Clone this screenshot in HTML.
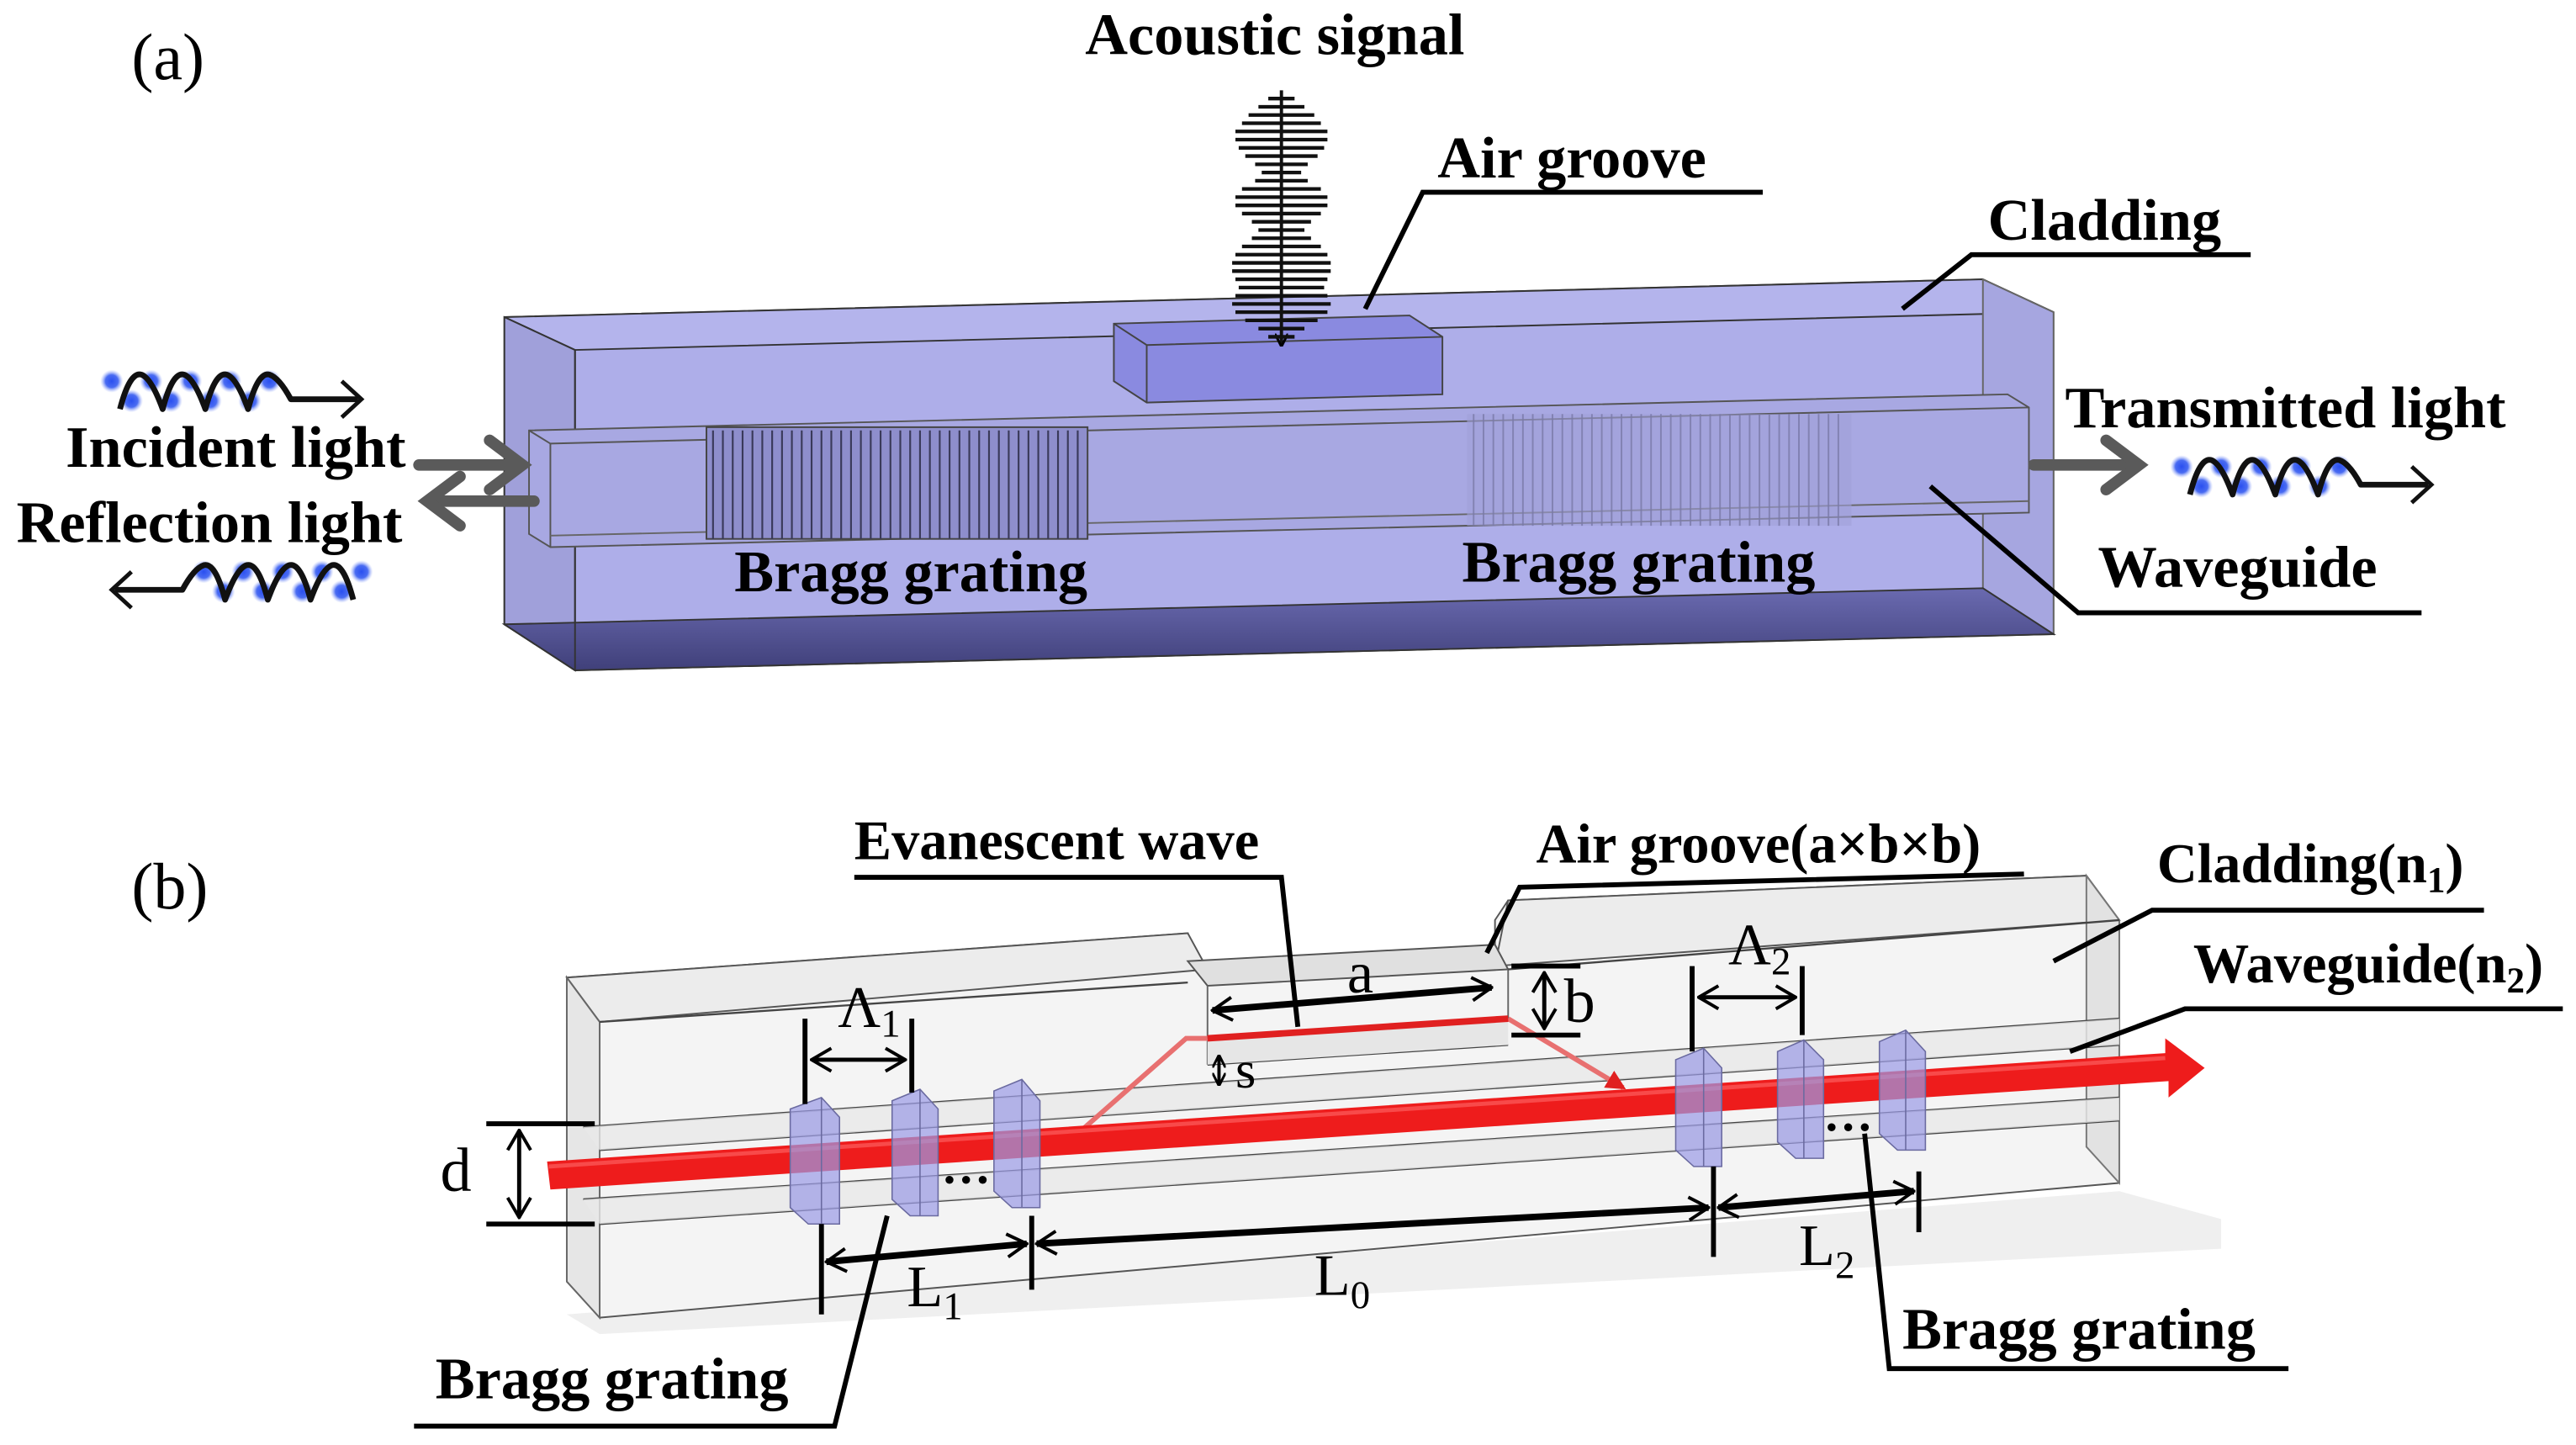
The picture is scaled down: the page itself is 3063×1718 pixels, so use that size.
<!DOCTYPE html>
<html><head><meta charset="utf-8"><style>
html,body{margin:0;padding:0;background:#fff}
svg{display:block}
text{font-family:"Liberation Serif",serif;font-weight:bold;fill:#000}
.r{font-weight:normal}
</style></head><body>
<svg width="3063" height="1718" viewBox="0 0 1568 879.5" xmlns="http://www.w3.org/2000/svg">
<defs>
<marker id="ah" markerWidth="14" markerHeight="16" refX="13" refY="8" orient="auto-start-reverse" markerUnits="userSpaceOnUse"><path d="M1,1 L13,8 L1,15" fill="none" stroke="#000" stroke-width="2"/></marker>
<marker id="as" markerWidth="8" markerHeight="8" refX="7" refY="4" orient="auto-start-reverse" markerUnits="userSpaceOnUse"><path d="M0,0 L8,4 L0,8" fill="none" stroke="#000" stroke-width="1.5"/></marker>
<marker id="ra" markerWidth="12" markerHeight="12" refX="10" refY="6" orient="auto" markerUnits="userSpaceOnUse"><path d="M0,0 L12,6 L0,12 Z" fill="#e02020"/></marker>
<radialGradient id="dg"><stop offset="0" stop-color="#2a4ff0"/><stop offset="0.55" stop-color="#4a6cf2"/><stop offset="1" stop-color="#a8b8fa" stop-opacity="0"/></radialGradient>
<g id="wave">
<g fill="url(#dg)">
<circle cx="0" cy="-6" r="7"/><circle cx="12" cy="6" r="7"/><circle cx="24" cy="-6" r="7"/><circle cx="36" cy="6" r="7"/><circle cx="48" cy="-6" r="7"/><circle cx="60" cy="6" r="7"/><circle cx="72" cy="-6" r="7"/><circle cx="84" cy="6" r="7"/><circle cx="96" cy="-6" r="7"/>
</g>
<path d="M5,11 Q11,-12 18,-10 Q24,-8 31,11 Q37,-12 44,-10 Q50,-8 57,11 Q63,-12 70,-10 Q76,-8 83,11 Q89,-12 96,-10 Q102,-8 109,5 L150,5" fill="none" stroke="#111" stroke-width="3.5" stroke-linejoin="round"/>
<path d="M140,-6 L152,5 L140,16" fill="none" stroke="#111" stroke-width="2.5"/>
</g>
<linearGradient id="bot" x1="0" y1="0" x2="0" y2="1"><stop offset="0" stop-color="#6a6ab0"/><stop offset="1" stop-color="#40407a"/></linearGradient>
</defs>

<!-- ===== Panel (a) ===== -->
<text x="80" y="48" class="r" font-size="40">(a)</text>
<text x="776" y="33" font-size="36" text-anchor="middle">Acoustic signal</text>

<polygon points="307,193 1207,170 1250,190 1250,386 350,408 307,380" fill="#aeaee9" stroke="#444" stroke-width="1"/>
<polygon points="307,193 1207,170 1250,190 350,213" fill="#b4b4ec" stroke="#333" stroke-width="1"/>
<polygon points="307,193 350,213 350,408 307,380" fill="#a0a0da" stroke="#333" stroke-width="1"/>
<polygon points="1207,170 1250,190 1250,386 1207,358" fill="#a6a6e0" stroke="#666" stroke-width="1"/>
<polygon points="307,380 1207,358 1250,386 350,408" fill="url(#bot)" stroke="#333" stroke-width="1"/>
<line x1="350" y1="213" x2="350" y2="408" stroke="#333"/>
<polygon points="678,197 858,192 878,205 878,240 698,245 678,232" fill="#8a8ae0" stroke="#444"/>
<polyline points="678,197 698,210 878,205" fill="none" stroke="#444"/>
<line x1="698" y1="210" x2="698" y2="245" stroke="#444"/>
<polygon points="322,262 1222,240 1235,248 1235,312 335,333 322,325" fill="#a8a8e2" stroke="#555"/>
<polyline points="322,262 335,270 1235,248" fill="none" stroke="#555"/>
<line x1="335" y1="270" x2="335" y2="333" stroke="#555"/>
<line x1="335" y1="326" x2="1235" y2="305" stroke="#666"/>
<rect x="430" y="260" width="232" height="68" fill="#8e8ecc" stroke="#444"/>
<g stroke="#3a3a5a" stroke-width="1.1">
<path d="M434,262V328M440,262V328M446,262V328M452,262V328M458,262V328M464,262V328M470,262V328M476,262V328M482,262V328M488,262V328M494,262V328M500,262V328M506,262V328M512,262V328M518,262V328M524,262V328M530,262V328M536,262V328M542,262V328M548,262V328M554,262V328M560,262V328M566,262V328M572,262V328M578,262V328M584,262V328M590,262V328M596,262V328M602,262V328M608,262V328M614,262V328M620,262V328M626,262V328M632,262V328M638,262V328M644,262V328M650,262V328M656,262V328"/>
</g>
<rect x="893" y="252" width="234" height="68" fill="#a0a0d8" opacity="0.6"/>
<g stroke="#7a7aa8" stroke-width="1" opacity="0.8">
<path d="M897,252V320M903,252V320M909,252V320M915,252V320M921,252V320M927,252V320M933,252V320M939,252V320M945,252V320M951,252V320M957,252V320M963,252V320M969,252V320M975,252V320M981,252V320M987,252V320M993,252V320M999,252V320M1005,252V320M1011,252V320M1017,252V320M1023,252V320M1029,252V320M1035,252V320M1041,252V320M1047,252V320M1053,252V320M1059,252V320M1065,252V320M1071,252V320M1077,252V320M1083,252V320M1089,252V320M1095,252V320M1101,252V320M1107,252V320M1113,252V320M1119,252V320"/>
</g>

<line x1="780" y1="55" x2="780" y2="210" stroke="#111" stroke-width="2" marker-end="url(#as)"/>
<g stroke="#111" stroke-width="2.2">
<path d="M772,60h16M766,65h28M760,70h40M756,75h48M752,80h56M752,85h56M754,90h52M758,95h44M764,100h32M768,105h24M764,110h32M756,115h48M752,120h56M752,125h56M756,130h48M762,135h36M766,140h28M762,145h36M756,150h48M752,155h56M750,160h60M750,165h60M752,170h56M754,175h52M752,180h56M750,185h60M752,190h56M758,195h44M766,200h28M772,205h16"/>
</g>

<text x="875" y="108" font-size="36">Air groove</text>
<polyline points="1073,117 866,117 831,188" fill="none" stroke="#000" stroke-width="3"/>
<text x="1210" y="146" font-size="36">Cladding</text>
<polyline points="1370,155 1200,155 1158,188" fill="none" stroke="#000" stroke-width="3"/>
<text x="1257" y="260" font-size="36">Transmitted light</text>
<text x="1277" y="357" font-size="36">Waveguide</text>
<polyline points="1474,373 1265,373 1175,296" fill="none" stroke="#000" stroke-width="3"/>
<text x="40" y="284" font-size="36">Incident light</text>
<text x="10" y="330" font-size="36">Reflection light</text>
<text x="447" y="360" font-size="36">Bragg grating</text>
<text x="890" y="354" font-size="36">Bragg grating</text>

<g stroke="#5a5a5a" stroke-width="7" fill="none" stroke-linecap="round">
<line x1="255" y1="283" x2="316" y2="283"/><polyline points="298,268 318,283 298,298"/>
<line x1="325" y1="305" x2="262" y2="305"/><polyline points="280,290 260,305 280,320"/>
<line x1="1238" y1="283" x2="1300" y2="283"/><polyline points="1282,268 1302,283 1282,298"/>
</g>
<use href="#wave" x="68" y="238"/>
<use href="#wave" x="1328" y="290"/>
<g transform="translate(220,354) scale(-1,1)"><use href="#wave"/></g>

<!-- ===== Panel (b) ===== -->
<text x="80" y="553" class="r" font-size="40">(b)</text>

<polygon points="345,800 1290,725 1352,742 1352,760 365,812" fill="#e4e4e4" opacity="0.6"/>
<g fill="#f4f4f4" stroke="#555" stroke-width="1">
<polygon points="345,595 723,568 723,585 735,592 910,578 910,560 918,548 1270,533 1290,560 1290,720 365,802 345,780"/>
</g>
<polygon points="345,595 723,568 735,590 365,622" fill="#ececec" stroke="#555"/>
<polygon points="918,548 1270,533 1290,560 910,588" fill="#ececec" stroke="#555"/>
<polygon points="345,595 365,622 365,802 345,780" fill="#e6e6e6" stroke="#666"/>
<polygon points="1270,533 1290,560 1290,720 1270,698" fill="#e2e2e2" stroke="#777"/>
<polygon points="723,585 910,575 918,590 735,600" fill="#e0e0e0" stroke="#555"/>
<line x1="735" y1="600" x2="735" y2="648" stroke="#666"/>
<line x1="918" y1="590" x2="918" y2="620" stroke="#666"/>
<g stroke="#444" stroke-width="1.2" fill="none">
<line x1="365" y1="622" x2="723" y2="598"/>
<line x1="918" y1="590" x2="1290" y2="560"/>
<line x1="355" y1="686" x2="1290" y2="620"/>
<line x1="365" y1="700" x2="1290" y2="636"/>
<line x1="355" y1="730" x2="1290" y2="668"/>
<line x1="365" y1="745" x2="1290" y2="682"/>
<line x1="735" y1="648" x2="918" y2="636"/>
</g>
<polygon points="355,686 1290,620 1290,636 365,700" fill="#e8e8e8" opacity="0.8"/>
<polygon points="355,730 1290,668 1290,682 365,745" fill="#e8e8e8" opacity="0.8"/>
<polygon points="735,632 918,620 918,636 735,648" fill="#e6e6e6"/>

<g stroke="#e87070" stroke-width="3" fill="none">
<polyline points="656,690 722,632 735,632"/>
<line x1="918" y1="620" x2="988" y2="662" marker-end="url(#ra)"/>
</g>
<line x1="735" y1="632" x2="918" y2="620" stroke="#e02020" stroke-width="4"/>

<polygon points="333,707 1318,641 1318,632 1342,650 1320,668 1320,658 335,724" fill="#ee1c1c"/>
<line x1="334" y1="710" x2="1318" y2="644" stroke="#ff6a6a" stroke-width="2.5" opacity="0.6"/>

<g fill="#9a9ae6" fill-opacity="0.7" stroke="#6a6aa0" stroke-width="0.8">
<polygon points="481,675 500,668 511,680 511,745 492,745 481,735"/>
<polygon points="543,670 560,663 571,675 571,740 554,740 543,730"/>
<polygon points="605,664 622,657 633,670 633,735 616,735 605,725"/>
<polygon points="1020,645 1037,638 1048,650 1048,710 1031,710 1020,700"/>
<polygon points="1082,640 1098,633 1110,645 1110,705 1093,705 1082,695"/>
<polygon points="1144,634 1160,627 1172,640 1172,700 1155,700 1144,690"/>
</g>
<g stroke="#6a6aa0" stroke-width="0.8">
<line x1="500" y1="668" x2="500" y2="745"/><line x1="560" y1="663" x2="560" y2="740"/><line x1="622" y1="657" x2="622" y2="735"/>
<line x1="1037" y1="638" x2="1037" y2="710"/><line x1="1098" y1="633" x2="1098" y2="705"/><line x1="1160" y1="627" x2="1160" y2="700"/>
</g>
<text x="573" y="720" font-size="30">…</text>
<text x="1110" y="688" font-size="30">…</text>

<g stroke="#000" stroke-width="3" fill="none">
<line x1="296" y1="684" x2="362" y2="684"/><line x1="296" y1="745" x2="362" y2="745"/>
<line x1="490" y1="620" x2="490" y2="672"/><line x1="555" y1="620" x2="555" y2="665"/>
<line x1="1030" y1="588" x2="1030" y2="640"/><line x1="1097" y1="588" x2="1097" y2="630"/>
<line x1="920" y1="588" x2="962" y2="588"/><line x1="920" y1="630" x2="962" y2="630"/>
<line x1="500" y1="745" x2="500" y2="800"/><line x1="628" y1="740" x2="628" y2="785"/>
<line x1="1043" y1="710" x2="1043" y2="765"/><line x1="1168" y1="713" x2="1168" y2="750"/>
</g>
<g stroke="#000" stroke-width="2.5" fill="none">
<line x1="316" y1="688" x2="316" y2="741" marker-start="url(#ah)" marker-end="url(#ah)"/>
<line x1="494" y1="645" x2="551" y2="645" marker-start="url(#ah)" marker-end="url(#ah)"/>
<line x1="1034" y1="607" x2="1093" y2="607" marker-start="url(#ah)" marker-end="url(#ah)"/>
<line x1="940" y1="592" x2="940" y2="626" marker-start="url(#ah)" marker-end="url(#ah)"/>
<line x1="742" y1="643" x2="742" y2="660" marker-start="url(#as)" marker-end="url(#as)" stroke-width="2"/>
</g>
<g stroke="#000" stroke-width="4" fill="none">
<line x1="738" y1="615" x2="908" y2="601" marker-start="url(#ah)" marker-end="url(#ah)"/>
<line x1="503" y1="768" x2="625" y2="757" marker-start="url(#ah)" marker-end="url(#ah)"/>
<line x1="631" y1="757" x2="1040" y2="735" marker-start="url(#ah)" marker-end="url(#ah)"/>
<line x1="1046" y1="735" x2="1165" y2="725" marker-start="url(#ah)" marker-end="url(#ah)"/>
</g>
<text x="268" y="725" class="r" font-size="38">d</text>
<text x="510" y="625" class="r" font-size="36">Λ<tspan font-size="24" dy="6">1</tspan></text>
<text x="1052" y="587" class="r" font-size="36">Λ<tspan font-size="24" dy="6">2</tspan></text>
<text x="820" y="604" class="r" font-size="36">a</text>
<text x="952" y="622" class="r" font-size="38">b</text>
<text x="752" y="662" class="r" font-size="32">s</text>
<text x="552" y="795" class="r" font-size="36">L<tspan font-size="24" dy="8">1</tspan></text>
<text x="800" y="788" class="r" font-size="36">L<tspan font-size="24" dy="8">0</tspan></text>
<text x="1095" y="770" class="r" font-size="36">L<tspan font-size="24" dy="8">2</tspan></text>

<text x="520" y="523" font-size="34">Evanescent wave</text>
<polyline points="520,534 780,534 790,625" fill="none" stroke="#000" stroke-width="3"/>
<text x="935" y="525" font-size="34">Air groove(a×b×b)</text>
<polyline points="1232,532 925,540 905,580" fill="none" stroke="#000" stroke-width="3"/>
<text x="1313" y="537" font-size="34">Cladding(n<tspan font-size="22" dy="6">1</tspan><tspan dy="-6">)</tspan></text>
<polyline points="1512,554 1310,554 1250,585" fill="none" stroke="#000" stroke-width="3"/>
<text x="1335" y="598" font-size="34">Waveguide(n<tspan font-size="22" dy="6">2</tspan><tspan dy="-6">)</tspan></text>
<polyline points="1560,614 1330,614 1260,640" fill="none" stroke="#000" stroke-width="3"/>
<text x="265" y="851" font-size="36">Bragg grating</text>
<polyline points="252,868 508,868 540,740" fill="none" stroke="#000" stroke-width="3"/>
<text x="1158" y="821" font-size="36">Bragg grating</text>
<polyline points="1393,833 1150,833 1135,690" fill="none" stroke="#000" stroke-width="3"/>
</svg>
</body></html>
